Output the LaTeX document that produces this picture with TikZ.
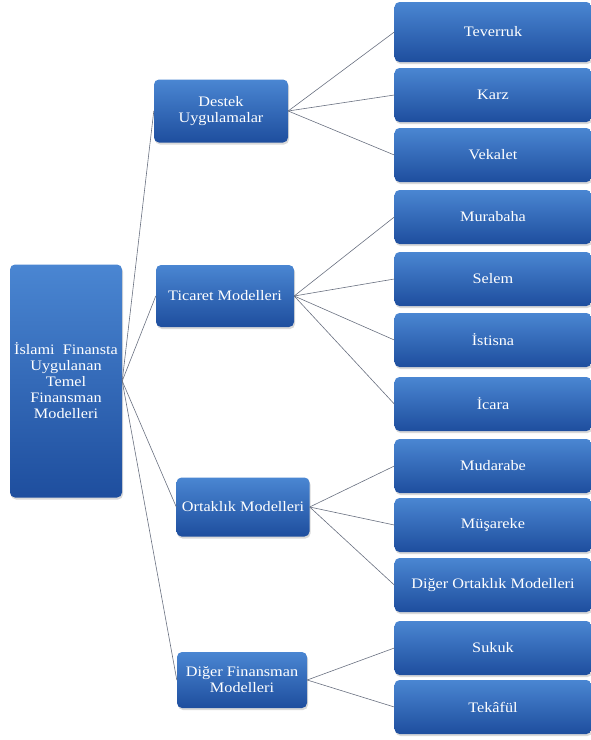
\documentclass[tikz,border=0pt]{standalone}
\usepackage{fontspec}
\setmainfont{Liberation Serif}[FakeStretch=1.12]
\usetikzlibrary{shadows}

\definecolor{boxtop}{RGB}{74,134,210}
\definecolor{boxbot}{RGB}{30,78,158}
\definecolor{linkgray}{RGB}{105,112,128}

\tikzset{
    modelbox/.style={rectangle, rounded corners=5pt, top color=boxtop, bottom color=boxbot,
        draw=none, text=white, align=center, inner sep=2pt,
        font=\fontsize{14.5}{16}\selectfont,
        drop shadow={opacity=0.3, shadow xshift=1pt, shadow yshift=-2pt}},
    rootbox/.style={modelbox, minimum width=112pt, minimum height=233pt},
    midbox/.style={modelbox, minimum height=60pt},
    leafbox/.style={modelbox, minimum width=197pt, minimum height=54pt},
    link/.style={draw=linkgray, line width=0.6pt}
}

\begin{document}
\begin{tikzpicture}[x=1pt,y=-1pt]
    \useasboundingbox (0,0) rectangle (590,740);

    % main box
    \node[rootbox, inner sep=0pt] (root) at (66,381) {İslami\ \ Finansta\\Uygulanan\\Temel\\Finansman\\Modelleri};

    % second level
    \node[midbox, minimum width=134pt, minimum height=63pt] (destek) at (221,111) {Destek\\Uygulamalar};
    \node[midbox, minimum width=138pt, minimum height=62pt] (ticaret) at (225,296) {Ticaret Modelleri};
    \node[midbox, minimum width=133pt, minimum height=59pt] (ortaklik) at (243,507) {Ortaklık Modelleri};
    \node[midbox, minimum width=130pt, minimum height=56pt] (diger) at (242,680) {Diğer Finansman\\Modelleri};

    % leaves of destek
    \node[leafbox, minimum height=60pt] (teverruk) at (493,32) {Teverruk};
    \node[leafbox] (karz) at (493,95) {Karz};
    \node[leafbox] (vekalet) at (493,155) {Vekalet};

    % leaves of ticaret
    \node[leafbox] (murabaha) at (493,217) {Murabaha};
    \node[leafbox] (selem) at (493,279) {Selem};
    \node[leafbox] (istisna) at (493,340) {İstisna};
    \node[leafbox] (icara) at (493,404) {İcara};

    % leaves of ortaklik
    \node[leafbox] (mudarabe) at (493,466) {Mudarabe};
    \node[leafbox] (musareke) at (493,525) {Müşareke};
    \node[leafbox] (digerortaklik) at (493,585) {Diğer Ortaklık Modelleri};

    % leaves of diger
    \node[leafbox] (sukuk) at (493,648) {Sukuk};
    \node[leafbox] (tekaful) at (493,707) {Tekâfül};

    % links from the main box
    \draw[link] (root.east) -- (destek.west);
    \draw[link] (root.east) -- (ticaret.west);
    \draw[link] (root.east) -- (ortaklik.west);
    \draw[link] (root.east) -- (diger.west);

    % links to the leaves
    \draw[link] (destek.east) -- (teverruk.west);
    \draw[link] (destek.east) -- (karz.west);
    \draw[link] (destek.east) -- (vekalet.west);

    \draw[link] (ticaret.east) -- (murabaha.west);
    \draw[link] (ticaret.east) -- (selem.west);
    \draw[link] (ticaret.east) -- (istisna.west);
    \draw[link] (ticaret.east) -- (icara.west);

    \draw[link] (ortaklik.east) -- (mudarabe.west);
    \draw[link] (ortaklik.east) -- (musareke.west);
    \draw[link] (ortaklik.east) -- (digerortaklik.west);

    \draw[link] (diger.east) -- (sukuk.west);
    \draw[link] (diger.east) -- (tekaful.west);
\end{tikzpicture}
\end{document}
